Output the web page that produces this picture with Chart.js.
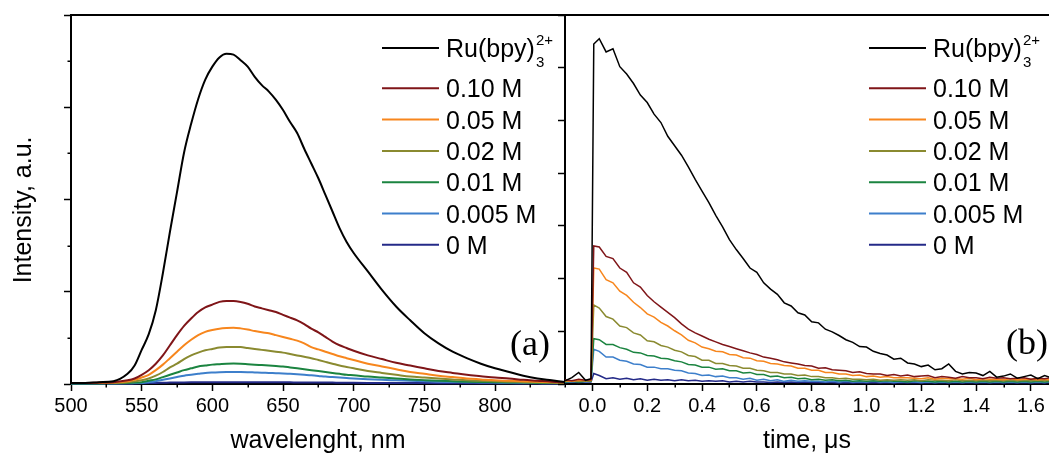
<!DOCTYPE html>
<html><head><meta charset="utf-8">
<script src="https://cdn.jsdelivr.net/npm/chart.js@4.4.0/dist/chart.umd.min.js"></script>
<style>
html,body{margin:0;padding:0;background:#fff;}
#wrap{position:relative;width:1049px;height:456px;overflow:hidden;background:#fff;}
canvas{position:absolute;top:0;}
#ca{left:0;}
#cb{left:540px;}
</style></head><body>
<div id="wrap"><canvas id="ca" width="566" height="456"></canvas><canvas id="cb" width="509" height="456"></canvas></div>
<script>
// ---------- data ----------
const seriesNames = ['Ru(bpy)\u2083\u00b2\u207a', '0.10 M', '0.05 M', '0.02 M', '0.01 M', '0.005 M', '0 M'];
const ruLabel = {main: 'Ru(bpy)', sub: '3', sup: '2+'};
const seriesColors = ['#000000', '#7f1518', '#f7861d', '#8a8a30', '#1b8440', '#3d7fcb', '#242a88'];

// panel (a): emission spectra
const wavelength = [500,510,520,530,540,545,550,555,560,565,570,575,580,585,590,595,600,605,610,615,620,625,630,635,640,645,650,655,660,665,670,675,680,685,690,695,700,710,720,730,740,750,760,770,780,790,800,810,820,830,840,850];
const emRu = [0.01,0.01,0.02,0.03,0.11, 0.20,0.37,0.54,0.80,1.20,1.65,2.08,2.51,2.82,3.09, 3.30,3.44,3.54,3.58,3.57,3.51,3.44,3.33,3.24,3.17, 3.08,2.97,2.84,2.72,2.55,2.39,2.23,2.05,1.87,1.69, 1.54,1.42, 1.22,1.02,0.84,0.69,0.55,0.44,0.35,0.28,0.22,0.17,0.13,0.09,0.06,0.04,0.02];
const em010 = [0.01,0.01,0.015,0.02,0.04, 0.06,0.10,0.15,0.22,0.31,0.42,0.53,0.63,0.71,0.78, 0.83,0.86,0.89,0.90,0.90,0.89,0.87,0.84,0.82,0.80, 0.78,0.75,0.72,0.69,0.65,0.60,0.56,0.51,0.46,0.42, 0.39,0.36, 0.31,0.27,0.23,0.20,0.17,0.14,0.12,0.10,0.085,0.07,0.06,0.045,0.035,0.025,0.02];
const em005 = [0.01,0.01,0.012,0.015,0.03, 0.045,0.07,0.10,0.15,0.21,0.28,0.35,0.42,0.48,0.53, 0.565,0.585,0.60,0.607,0.61,0.603,0.59,0.574,0.56,0.55, 0.53,0.51,0.49,0.47,0.44,0.40,0.375,0.35,0.325,0.30, 0.28,0.26, 0.22,0.19,0.16,0.13,0.11,0.09,0.075,0.06,0.05,0.04,0.035,0.03,0.025,0.02,0.015];
const em002 = [0.01,0.01,0.01,0.012,0.02, 0.03,0.04,0.06,0.09,0.13,0.18,0.22,0.27,0.31,0.34, 0.365,0.38,0.395,0.40,0.40,0.40,0.39,0.38,0.37,0.36, 0.35,0.34,0.325,0.31,0.295,0.28,0.26,0.24,0.22,0.20, 0.185,0.17, 0.14,0.12,0.10,0.08,0.07,0.06,0.05,0.04,0.035,0.03,0.025,0.02,0.018,0.015,0.012];
const em001 = [0.005,0.005,0.006,0.008,0.012, 0.015,0.02,0.035,0.05,0.075,0.10,0.125,0.15,0.17,0.19, 0.20,0.21,0.215,0.22,0.222,0.22,0.215,0.21,0.205,0.20, 0.195,0.19,0.18,0.17,0.16,0.15,0.14,0.13,0.12,0.11, 0.10,0.095, 0.08,0.07,0.06,0.05,0.042,0.035,0.03,0.025,0.022,0.02,0.017,0.015,0.012,0.01,0.01];
const em0005 = [0.005,0.005,0.005,0.006,0.008, 0.01,0.012,0.02,0.03,0.045,0.06,0.075,0.09,0.10,0.11, 0.12,0.125,0.128,0.13,0.131,0.13,0.128,0.125,0.122,0.12, 0.117,0.115,0.11,0.105,0.10,0.095,0.088,0.08,0.075,0.07, 0.065,0.06, 0.052,0.045,0.04,0.035,0.03,0.025,0.022,0.02,0.017,0.015,0.013,0.012,0.01,0.008,0.008];
const em0 = [0.005,0.005,0.005,0.005,0.005, 0.006,0.008,0.01,0.012,0.013,0.015,0.016,0.017,0.018,0.019, 0.02,0.02,0.02,0.02,0.02,0.02,0.02,0.02,0.019,0.019, 0.019,0.018,0.018,0.017,0.017,0.016,0.016,0.015,0.015,0.014, 0.014,0.013, 0.012,0.012,0.011,0.011,0.01,0.009,0.009,0.008,0.008,0.007,0.007,0.006,0.006,0.005,0.005];

// panel (b): luminescence decays
const time = [-0.1,-0.075,-0.05,-0.025,-0.005,0.005,
 0.025,0.05,0.075,0.1,0.125,0.15,0.175,0.2,0.225,0.25,
 0.275,0.3,0.325,0.35,0.375,0.4,0.425,0.45,0.475,0.5,
 0.525,0.55,0.575,0.6,0.625,0.65,0.675,0.7,0.725,0.75,
 0.775,0.8,0.825,0.85,0.875,0.9,0.925,0.95,0.975,1.0,
 1.025,1.05,1.075,1.1,1.125,1.15,1.175,1.2,1.225,1.25,
 1.275,1.3,1.325,1.35,1.375,1.4,1.425,1.45,1.475,1.5,
 1.525,1.55,1.575,1.6,1.625,1.65,1.675];
const decRu = [0.06,0.12,0.22,0.07,0.10,6.45,
 6.55,6.30,6.36,6.02,5.88,5.70,5.48,5.34,5.12,4.96,
 4.70,4.52,4.34,4.12,3.88,3.66,3.44,3.20,2.98,2.74,
 2.55,2.38,2.20,2.12,1.92,1.80,1.70,1.54,1.48,1.35,
 1.31,1.18,1.16,1.04,0.99,0.92,0.84,0.79,0.71,0.70,
 0.62,0.58,0.55,0.47,0.49,0.40,0.38,0.33,0.36,0.27,
 0.29,0.38,0.24,0.19,0.22,0.21,0.16,0.24,0.13,0.15,
 0.19,0.11,0.14,0.17,0.10,0.16,0.12];
const dec010 = [0.08,0.06,0.09,0.07,0.08,2.62,
 2.60,2.42,2.38,2.20,2.12,1.92,1.84,1.68,1.56,1.46,
 1.36,1.26,1.14,1.04,0.97,0.91,0.85,0.80,0.75,0.71,
 0.67,0.63,0.59,0.56,0.51,0.49,0.46,0.42,0.40,0.38,
 0.35,0.34,0.30,0.31,0.27,0.26,0.25,0.22,0.23,0.20,
 0.19,0.19,0.16,0.18,0.15,0.17,0.14,0.15,0.16,0.12,
 0.14,0.13,0.11,0.14,0.12,0.12,0.10,0.13,0.11,0.12,
 0.10,0.11,0.12,0.09,0.11,0.10,0.12];
const dec005 = [0.06,0.05,0.07,0.06,0.07,2.20,
 2.18,1.98,1.92,1.76,1.68,1.55,1.45,1.33,1.27,1.17,
 1.10,1.01,0.93,0.83,0.78,0.70,0.67,0.62,0.61,0.56,
 0.55,0.50,0.49,0.44,0.43,0.39,0.38,0.35,0.34,0.30,
 0.30,0.26,0.26,0.22,0.22,0.19,0.19,0.16,0.17,0.14,
 0.15,0.13,0.14,0.12,0.12,0.12,0.11,0.10,0.12,0.09,
 0.11,0.10,0.10,0.09,0.11,0.08,0.10,0.09,0.09,0.08,
 0.10,0.08,0.09,0.09,0.08,0.09,0.08];
const dec002 = [0.05,0.06,0.05,0.06,0.06,1.50,
 1.44,1.28,1.23,1.10,1.07,0.97,0.93,0.82,0.80,0.73,
 0.70,0.64,0.61,0.54,0.52,0.45,0.45,0.39,0.39,0.35,
 0.34,0.30,0.30,0.26,0.25,0.22,0.22,0.19,0.19,0.16,
 0.17,0.14,0.14,0.12,0.12,0.10,0.11,0.09,0.09,0.08,
 0.09,0.07,0.08,0.07,0.08,0.07,0.08,0.06,0.08,0.07,
 0.07,0.06,0.08,0.06,0.07,0.06,0.07,0.06,0.07,0.06,
 0.07,0.06,0.07,0.06,0.07,0.06,0.07];
const dec001 = [0.04,0.05,0.04,0.05,0.05,0.86,
 0.84,0.75,0.75,0.69,0.66,0.60,0.59,0.54,0.53,0.49,
 0.48,0.44,0.42,0.37,0.36,0.32,0.32,0.28,0.29,0.25,
 0.25,0.21,0.22,0.18,0.18,0.14,0.15,0.12,0.13,0.10,
 0.11,0.08,0.09,0.07,0.08,0.06,0.07,0.05,0.06,0.05,
 0.06,0.05,0.06,0.05,0.05,0.04,0.06,0.05,0.05,0.04,
 0.05,0.04,0.05,0.04,0.05,0.04,0.05,0.04,0.05,0.04,
 0.05,0.04,0.05,0.04,0.05,0.04,0.05];
const dec0005 = [0.04,0.04,0.05,0.04,0.05,0.66,
 0.62,0.51,0.51,0.45,0.43,0.38,0.37,0.32,0.32,0.29,
 0.29,0.26,0.25,0.21,0.20,0.16,0.17,0.14,0.15,0.12,
 0.12,0.09,0.11,0.07,0.09,0.06,0.08,0.05,0.07,0.05,
 0.06,0.05,0.05,0.04,0.05,0.04,0.05,0.04,0.04,0.04,
 0.05,0.04,0.04,0.03,0.04,0.04,0.04,0.03,0.04,0.03,
 0.04,0.03,0.04,0.03,0.04,0.03,0.04,0.03,0.04,0.03,
 0.04,0.03,0.04,0.03,0.04,0.03,0.04];
const dec0 = [0.03,0.04,0.03,0.04,0.04,0.20,
 0.16,0.10,0.12,0.09,0.11,0.08,0.10,0.07,0.09,0.07,
 0.08,0.06,0.08,0.06,0.07,0.05,0.06,0.05,0.06,0.04,
 0.05,0.04,0.05,0.04,0.04,0.03,0.04,0.03,0.04,0.03,
 0.04,0.03,0.03,0.03,0.03,0.02,0.03,0.02,0.03,0.02,
 0.03,0.02,0.03,0.02,0.03,0.02,0.03,0.02,0.03,0.02,
 0.03,0.02,0.03,0.02,0.03,0.02,0.03,0.02,0.03,0.02,
 0.03,0.02,0.03,0.02,0.03,0.02,0.03];

// ticks
const waveTicks = [500, 550, 600, 650, 700, 750, 800];
const waveMinorTicks = [525, 575, 625, 675, 725, 775, 825];
const intensityTicks = [0, 1, 2, 3, 4];
const intensityMinorTicks = [0.5, 1.5, 2.5, 3.5];
const timeTicks = [0, 0.2, 0.4, 0.6, 0.8, 1.0, 1.2, 1.4, 1.6];
const timeMinorTicks = [-0.1, 0.1, 0.3, 0.5, 0.7, 0.9, 1.1, 1.3, 1.5];
const decayTicks = [0, 1, 2, 3, 4, 5, 6, 7];
const legendRowY = [48, 88.3, 119.6, 150.9, 182.2, 213.5, 244.8];

// ---------- chart setup ----------
const FAMILY = '"Liberation Sans", Arial, Helvetica, sans-serif';
Chart.defaults.font.family = FAMILY;
Chart.defaults.color = '#000';

const minorTicksPlugin = {
  id: 'minorTicks',
  afterDraw(chart, args, opts) {
    const ctx = chart.ctx, ca = chart.chartArea;
    ctx.save();
    ctx.strokeStyle = '#000';
    ctx.lineWidth = 1.5;
    (opts.x || []).forEach(v => {
      const px = Math.round(chart.scales.x.getPixelForValue(v)) + 0.25;
      ctx.beginPath(); ctx.moveTo(px, ca.bottom); ctx.lineTo(px, ca.bottom + opts.len); ctx.stroke();
    });
    (opts.y || []).forEach(v => {
      const py = Math.round(chart.scales.y.getPixelForValue(v)) + 0.25;
      ctx.beginPath(); ctx.moveTo(ca.left, py); ctx.lineTo(ca.left - opts.len, py); ctx.stroke();
    });
    ctx.restore();
  }
};

const framePlugin = {
  id: 'frame',
  afterDraw(chart, args, opts) {
    const ctx = chart.ctx, ca = chart.chartArea;
    ctx.save();
    ctx.strokeStyle = '#000';
    ctx.lineWidth = 2;
    ctx.beginPath();
    ctx.moveTo(ca.left - 1, ca.top); ctx.lineTo(ca.right + 1, ca.top);
    if (opts.right) { ctx.moveTo(ca.right, ca.top); ctx.lineTo(ca.right, ca.bottom); }
    ctx.stroke();
    ctx.restore();
  }
};

const legendPlugin = {
  id: 'panelLegend',
  afterDraw(chart, args, opts) {
    const ctx = chart.ctx, ca = chart.chartArea;
    const x0 = ca.right - opts.fromRight;
    ctx.save();
    chart.data.datasets.forEach((ds, i) => {
      const y = legendRowY[i];
      ctx.strokeStyle = ds.borderColor;
      ctx.lineWidth = 2;
      ctx.beginPath(); ctx.moveTo(x0, y); ctx.lineTo(x0 + 57, y); ctx.stroke();
      ctx.fillStyle = '#000';
      ctx.textAlign = 'left';
      ctx.textBaseline = 'alphabetic';
      ctx.font = '25px ' + FAMILY;
      const tx = x0 + 64, by = y + 9;
      if (i === 0) {
        ctx.fillText(ruLabel.main, tx, by);
        const w = ctx.measureText(ruLabel.main).width;
        ctx.font = '15px ' + FAMILY;
        ctx.fillText(ruLabel.sub, tx + w + 1, by + 10);
        ctx.fillText(ruLabel.sup, tx + w + 1, by - 12);
      } else {
        ctx.fillText(ds.label, tx, by);
      }
    });
    // panel letter
    ctx.font = '36px "Liberation Serif", "Times New Roman", serif';
    ctx.textAlign = 'right';
    ctx.fillText(opts.panel, ca.right - opts.panelFromRight, opts.panelBaseline);
    ctx.restore();
  }
};

function makeDatasets(xs, seriesList, width, smooth) {
  return seriesList.map((arr, i) => ({
    label: seriesNames[i],
    data: xs.map((x, j) => ({x: x, y: arr[j]})),
    borderColor: seriesColors[i],
    borderWidth: width,
    pointRadius: 0,
    tension: smooth ? 0.4 : 0,
    cubicInterpolationMode: smooth ? 'monotone' : 'default',
    fill: false,
    clip: {left: 0, top: 0, right: 0, bottom: 2}
  }));
}

function axisCommon() {
  return {
    grid: {drawOnChartArea: false, tickLength: 7, tickWidth: 1.5, tickColor: '#000'},
    border: {display: true, color: '#000', width: 2}
  };
}

// panel (a)
new Chart(document.getElementById('ca'), {
  type: 'line',
  data: {datasets: makeDatasets(wavelength, [emRu, em010, em005, em002, em001, em0005, em0], 2, true)},
  options: {
    responsive: false, animation: false, devicePixelRatio: 1,
    layout: {padding: {top: 15, right: 1, left: 0, bottom: 0}},
    plugins: {
      legend: {display: false}, tooltip: {enabled: false},
      minorTicks: {x: waveMinorTicks, y: intensityMinorTicks, len: 3.5},
      frame: {right: true},
      panelLegend: {fromRight: 183, panel: '(a)', panelFromRight: 15, panelBaseline: 355}
    },
    scales: {
      x: Object.assign(axisCommon(), {
        type: 'linear', min: 500, max: 849.5,
        afterBuildTicks: s => { s.ticks = waveTicks.map(v => ({value: v})); },
        afterFit: s => { s.height = 72; },
        ticks: {font: {size: 20}, color: '#000', padding: 3, maxRotation: 0, autoSkip: false, callback: v => String(v)},
        title: {display: true, text: 'wavelenght, nm', font: {size: 25}, color: '#000', padding: {top: 0, bottom: 0}}
      }),
      y: Object.assign(axisCommon(), {
        type: 'linear', min: 0, max: 4,
        afterBuildTicks: s => { s.ticks = intensityTicks.map(v => ({value: v})); },
        afterFit: s => { s.width = 71; },
        ticks: {display: false},
        title: {display: true, text: 'Intensity, a.u.   ', font: {size: 25}, color: '#000', padding: {top: 9, bottom: 0}}
      })
    }
  },
  plugins: [minorTicksPlugin, framePlugin, legendPlugin]
});

// panel (b)
new Chart(document.getElementById('cb'), {
  type: 'line',
  data: {datasets: makeDatasets(time, [decRu, dec010, dec005, dec002, dec001, dec0005, dec0], 1.5, false)},
  options: {
    responsive: false, animation: false, devicePixelRatio: 1,
    layout: {padding: {top: 15, right: 0, left: 0, bottom: 0}},
    plugins: {
      legend: {display: false}, tooltip: {enabled: false},
      minorTicks: {x: timeMinorTicks, len: 3.5},
      frame: {right: false},
      panelLegend: {fromRight: 180, panel: '(b)', panelFromRight: 1, panelBaseline: 354}
    },
    scales: {
      x: Object.assign(axisCommon(), {
        type: 'linear', min: -0.1, max: 1.666,
        afterBuildTicks: s => { s.ticks = timeTicks.map(v => ({value: v})); },
        afterFit: s => { s.height = 72; },
        ticks: {font: {size: 20}, color: '#000', padding: 3, maxRotation: 0, autoSkip: false, callback: v => Number(v).toFixed(1)},
        title: {display: true, text: 'time, \u03bcs', font: {size: 25}, color: '#000', padding: {top: 0, bottom: 0}}
      }),
      y: Object.assign(axisCommon(), {
        type: 'linear', min: 0, max: 7,
        afterBuildTicks: s => { s.ticks = decayTicks.map(v => ({value: v})); },
        afterFit: s => { s.width = 25; },
        ticks: {display: false},
        title: {display: false}
      })
    }
  },
  plugins: [minorTicksPlugin, framePlugin, legendPlugin]
});
</script>
</body></html>
